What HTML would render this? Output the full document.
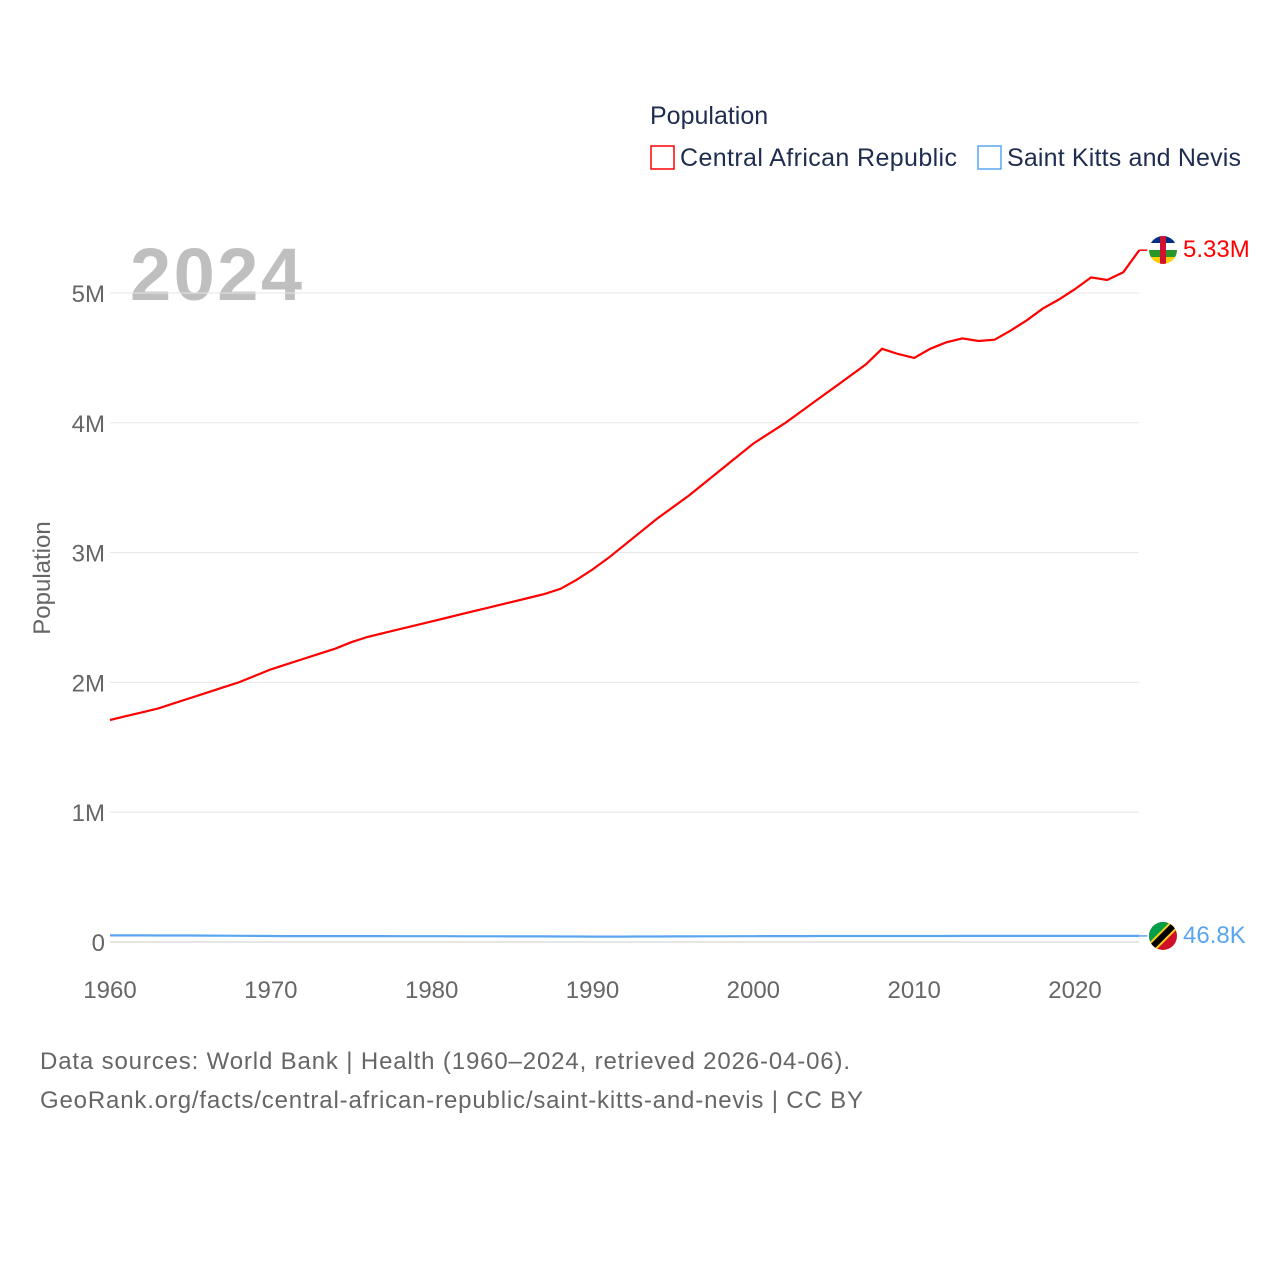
<!DOCTYPE html>
<html><head><meta charset="utf-8"><style>
body{margin:0;background:#fff;}
svg{display:block;font-family:"Liberation Sans",sans-serif;}
</style></head><body>
<svg id="chart" width="1280" height="1280" viewBox="0 0 1280 1280">
<text x="650" y="124" font-size="25" fill="#1e2d4f">Population</text>
<rect x="651" y="146" width="23" height="23" fill="none" stroke="#ff0000" stroke-width="1.5"/>
<text x="680" y="166" font-size="25" fill="#1e2d4f" textLength="277">Central African Republic</text>
<rect x="978" y="146" width="23" height="23" fill="none" stroke="#5aa5f0" stroke-width="1.5"/>
<text x="1007" y="166" font-size="25" fill="#1e2d4f" textLength="234">Saint Kitts and Nevis</text>
<text x="130" y="300" font-size="74" font-weight="bold" fill="#bfbfbf" textLength="172">2024</text>
<g id="grid"></g><g id="yticks"></g><g id="xticks"></g><g id="lines"></g>
<text transform="translate(50,578) rotate(-90)" text-anchor="middle" font-size="24" fill="#666">Population</text>
<g>
<clipPath id="c1"><circle cx="1163" cy="250" r="14"/></clipPath>
<g clip-path="url(#c1)"><rect x="1149" y="236" width="28" height="7" fill="#003082"/><rect x="1149" y="243" width="28" height="7" fill="#fff"/><rect x="1149" y="250" width="28" height="7" fill="#289728"/><rect x="1149" y="257" width="28" height="7" fill="#ffce00"/><rect x="1160" y="236" width="6" height="28" fill="#d21034"/></g></g>
<g>
<clipPath id="c2"><circle cx="1163" cy="936" r="14"/></clipPath>
<g clip-path="url(#c2)"><rect x="1149" y="922" width="28" height="28" fill="#ce1126"/><polygon points="1149,922 1177,922 1149,950" fill="#009e49"/><line x1="1177" y1="922" x2="1149" y2="950" stroke="#fcd116" stroke-width="10"/><line x1="1177" y1="922" x2="1149" y2="950" stroke="#000" stroke-width="6"/></g></g>
<text x="1183" y="257" font-size="24" fill="#ff0000">5.33M</text>
<text x="1183" y="943" font-size="24" fill="#5aa5f0">46.8K</text>
<text x="40" y="1069" font-size="24" fill="#666" textLength="810">Data sources: World Bank | Health (1960–2024, retrieved 2026-04-06).</text>
<text x="40" y="1108" font-size="24" fill="#666" textLength="823">GeoRank.org/facts/central-african-republic/saint-kitts-and-nevis | CC BY</text>
</svg>
<script>
const years=[];for(let y=1960;y<=2024;y++)years.push(y);
const carValues=[1.71,1.74,1.77,1.80,1.84,1.88,1.92,1.96,2.00,2.05,2.10,2.14,2.18,2.22,2.26,2.31,2.35,2.38,2.41,2.44,2.47,2.50,2.53,2.56,2.59,2.62,2.65,2.68,2.72,2.79,2.87,2.96,3.06,3.16,3.26,3.35,3.44,3.54,3.64,3.74,3.84,3.92,4.00,4.09,4.18,4.27,4.36,4.45,4.57,4.53,4.50,4.57,4.62,4.65,4.63,4.64,4.71,4.79,4.88,4.95,5.03,5.12,5.10,5.16,5.33].map(v=>v*1e6);
const sknValues=[51,50.8,50.5,50.2,50,49.7,49.2,48.5,47.8,47,46.2,45.8,45.6,45.5,45.4,45.3,45.2,45.1,45,44.8,44.6,44.4,44.2,44,43.8,43.5,43.2,42.9,42.5,42,41.7,41.6,41.7,42,42.4,42.8,43.2,43.6,44,44.4,44.8,45.2,45.5,45.7,45.9,46,46.1,46.2,46.3,46.4,46.5,46.6,46.6,46.7,46.7,46.8,46.8,46.8,46.9,46.9,46.9,46.9,46.8,46.8,46.8].map(v=>v*1e3);
const yTicks=[0,1e6,2e6,3e6,4e6,5e6];
const yTickLabels=["0","1M","2M","3M","4M","5M"];
const xTicks=[1960,1970,1980,1990,2000,2010,2020];
const NS="http://www.w3.org/2000/svg";
const xs=y=>110+(y-1960)*(965/60);
const ys=v=>942-v/1e6*129.8;
function mk(t,a,p){const e=document.createElementNS(NS,t);for(const k in a)e.setAttribute(k,a[k]);document.getElementById(p).appendChild(e);return e;}
yTicks.forEach((v,i)=>{
 const l=mk('line',{x1:110,x2:1139,y1:ys(v),y2:ys(v),stroke:i==0?'#ccc':'#e6e6e6','stroke-width':1},'grid');
 
 
 const t=mk('text',{x:105,y:ys(v)+9,'text-anchor':'end','font-size':24,fill:'#666'},'yticks');
 t.textContent=yTickLabels[i];
 
 
});
xTicks.forEach(y=>{
 const t=mk('text',{x:xs(y),y:998,'text-anchor':'middle','font-size':24,fill:'#666'},'xticks');
 t.textContent=y;
 
 
});
function line(vals,col,name){
 const d=vals.map((v,i)=>(i?'L':'M')+xs(years[i]).toFixed(1)+','+ys(v).toFixed(1)).join('');
 const p=mk('path',{d:d,fill:'none',stroke:col,'stroke-width':2.2},'lines');
 
 
 const n=vals.length-1;
 const c=mk('line',{x1:xs(years[n]),x2:xs(years[n])+8,y1:ys(vals[n]),y2:ys(vals[n]),stroke:col,'stroke-width':1.5},'lines');
 
 
}
line(carValues,'#ff0000','car-line');
line(sknValues,'#5aa5f0','skn-line');
</script>
</body></html>
